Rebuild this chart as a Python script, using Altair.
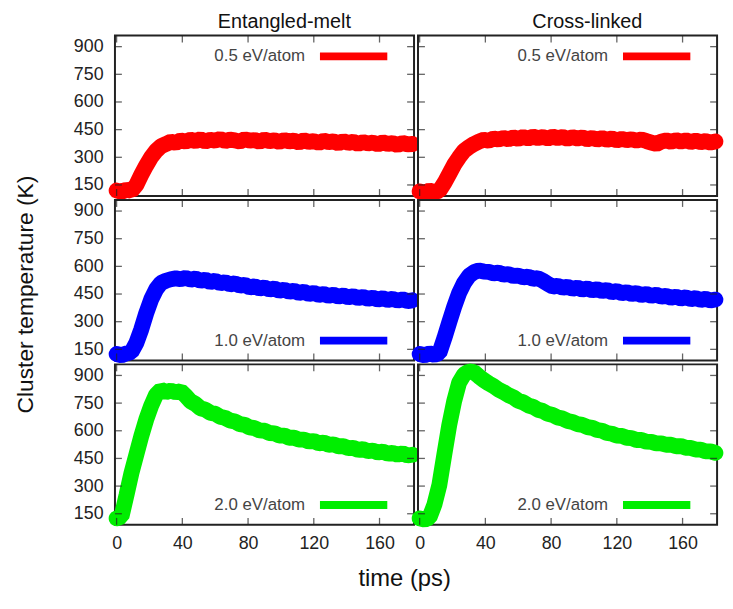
import altair as alt
import pandas as pd

FONT = "Liberation Sans"

time_ps = [0, 3, 6, 9, 12, 15, 18, 21, 24, 27, 30, 33, 36, 39, 42, 45, 48, 51, 54, 57,
           60, 63, 66, 69, 72, 75, 78, 81, 84, 87, 90, 93, 96, 99, 102, 105, 108, 111, 114, 117,
           120, 123, 126, 129, 132, 135, 138, 141, 144, 147, 150, 153, 156, 159, 162, 165, 168, 171, 174, 177, 180]

ent_05 = [120, 112, 125, 118, 150, 205, 255, 300, 335, 360, 372, 385, 378, 392, 385, 395, 388, 398, 386, 395,
          390, 400, 388, 396, 392, 385, 398, 390, 394, 384, 396, 388, 392, 383, 394, 386, 390, 380, 392, 384,
          388, 378, 390, 382, 386, 375, 388, 378, 384, 372, 383, 375, 380, 370, 381, 372, 377, 366, 378, 370, 372]
cross_05 = [115, 108, 120, 112, 118, 160, 210, 260, 300, 335, 355, 372, 385, 395, 390, 402, 396, 405, 398, 408,
            400, 410, 402, 412, 404, 410, 402, 412, 404, 410, 400, 409, 402, 408, 398, 405, 396, 404, 395, 402,
            392, 400, 393, 398, 390, 397, 388, 380, 372, 385, 392, 384, 393, 385, 392, 383, 390, 382, 388, 380, 386]
ent_10 = [125, 118, 128, 135, 185, 258, 345, 420, 475, 510, 522, 530, 535, 530, 538, 528, 534, 522, 528, 515,
          522, 508, 515, 502, 508, 495, 500, 486, 492, 480, 486, 474, 480, 468, 474, 462, 468, 456, 462, 450,
          456, 445, 450, 440, 446, 436, 442, 432, 438, 428, 434, 424, 430, 420, 427, 418, 424, 414, 421, 412, 416]
cross_10 = [125, 118, 128, 120, 130, 210, 296, 380, 455, 510, 548, 568, 578, 572, 570, 562, 566, 555, 558, 548,
            550, 540, 545, 532, 536, 522, 505, 490, 495, 484, 490, 478, 485, 474, 480, 470, 476, 466, 472, 460,
            466, 455, 460, 450, 455, 445, 450, 440, 446, 436, 440, 430, 436, 426, 432, 422, 428, 418, 424, 415, 420]
ent_20 = [125, 135, 250, 370, 470, 570, 660, 735, 795, 822, 810, 818, 808, 815, 790, 760, 745, 722, 715, 698,
          692, 676, 670, 656, 650, 636, 632, 618, 614, 602, 600, 588, 586, 574, 574, 562, 562, 552, 552, 542,
          544, 532, 536, 524, 526, 516, 516, 506, 507, 496, 500, 490, 492, 482, 487, 476, 480, 470, 478, 466, 470]
cross_20 = [125, 118, 130, 200, 306, 470, 630, 760, 860, 905, 922, 918, 895, 875, 857, 842, 823, 810, 793, 782,
            763, 754, 738, 730, 714, 707, 692, 686, 672, 666, 653, 648, 636, 632, 620, 616, 604, 600, 588, 584,
            574, 572, 562, 560, 550, 550, 541, 540, 532, 532, 524, 524, 516, 517, 508, 507, 498, 498, 488, 488, 480]

series = [[ent_05, cross_05], [ent_10, cross_10], [ent_20, cross_20]]
energy_labels = ["0.5 eV/atom", "1.0 eV/atom", "2.0 eV/atom"]
column_titles = ["Entangled-melt", "Cross-linked"]
colors = ["#ff0000", "#0000ff", "#00ee00"]
y_ticks = [150, 300, 450, 600, 750, 900]
x_ticks = [0, 40, 80, 120, 160]

W, H = 302, 162
xs = alt.Scale(domain=[-1, 181], nice=False, zero=False)
ys = alt.Scale(domain=[90, 960], nice=False, zero=False)
ytick_df = pd.DataFrame({"T": y_ticks})
xtick_df = pd.DataFrame({"t": x_ticks})


def make_panel(row, col):
    df = pd.DataFrame({"t": time_ps, "T": series[row][col]})
    color = colors[row]
    if row == 2:
        xkw = dict(values=x_ticks, ticks=False, domain=False, grid=False,
                   labelFontSize=18, labelPadding=10, labelColor="#222", labelFont=FONT)
        if col == 0:
            xkw.update(titleFontSize=24, titleFontWeight="normal", titlePadding=14,
                       titleX=292, titleColor="#111", titleFont=FONT)
        xaxis = alt.Axis(**xkw)
        xtitle = "time (ps)" if col == 0 else ""
    else:
        xaxis = None
        xtitle = ""
    if col == 0:
        ykw = dict(values=y_ticks, ticks=False, domain=False, grid=False,
                   labelFontSize=18, labelPadding=12, labelColor="#222", labelFont=FONT)
        if row == 1:
            ykw.update(titleFontSize=23, titleFontWeight="normal", titlePadding=36,
                       titleY=95, titleColor="#111", titleFont=FONT)
        yaxis = alt.Axis(**ykw)
        ytitle = "Cluster temperature (K)" if row == 1 else ""
    else:
        yaxis = None
        ytitle = ""

    X = alt.X("t:Q", scale=xs, axis=xaxis, title=xtitle)
    Y = alt.Y("T:Q", scale=ys, axis=yaxis, title=ytitle)

    line = alt.Chart(df).mark_line(
        color=color, strokeWidth=16, strokeJoin="bevel", strokeCap="round", clip=False
    ).encode(x=X, y=Y)
    tick_style = dict(color="#222", thickness=1.3, size=7)
    lt = alt.Chart(ytick_df).mark_tick(orient="horizontal", **tick_style).encode(
        y=Y, x=alt.value(3.5))
    rt = alt.Chart(ytick_df).mark_tick(orient="horizontal", **tick_style).encode(
        y=Y, x=alt.value(W - 3.5))
    tt = alt.Chart(xtick_df).mark_tick(orient="vertical", **tick_style).encode(
        x=X, y=alt.value(3.5))
    bt = alt.Chart(xtick_df).mark_tick(orient="vertical", **tick_style).encode(
        x=X, y=alt.value(H - 3.5))

    ly = 21 if row == 0 else H - 20
    ldf = pd.DataFrame({"label": [energy_labels[row]]})
    ltext = alt.Chart(ldf).mark_text(
        align="right", baseline="middle", fontSize=17, color="#444", font=FONT
    ).encode(x=alt.value(192), y=alt.value(ly), text="label:N")
    lrule = alt.Chart(ldf).mark_rule(color=color, strokeWidth=8).encode(
        x=alt.value(207), x2=alt.value(275), y=alt.value(ly))

    props = dict(width=W, height=H,
                 view=alt.ViewBackground(stroke="#222", strokeWidth=2, fill="white"))
    if row == 0:
        props["title"] = alt.TitleParams(
            text=column_titles[col], fontSize=20, fontWeight="normal", dx=20,
            offset=4, anchor="middle", font=FONT, color="#111")
    return alt.layer(line, lt, rt, tt, bt, ltext, lrule).properties(**props)


panels = [make_panel(r, c) for r in range(3) for c in range(2)]

chart = alt.concat(*panels, columns=2, spacing=4, bounds="flush").properties(
    padding={"left": 5, "top": 0, "right": 0, "bottom": 0}
).configure_view(stroke="#222", strokeWidth=2).configure(font=FONT)

chart.save("out.html", embed_options={"renderer": "svg", "actions": False})
